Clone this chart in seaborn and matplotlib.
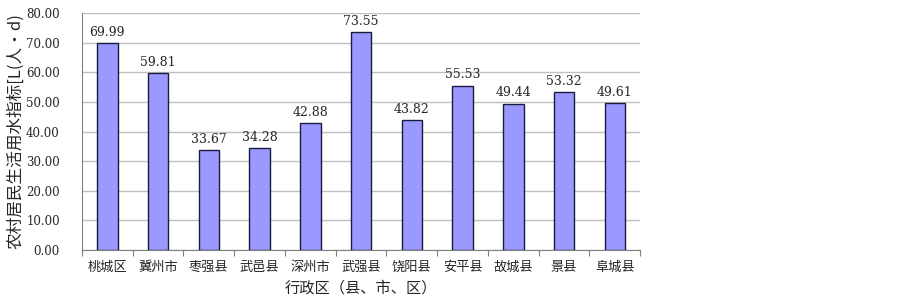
import numpy as np
import pandas as pd
import seaborn as sns
import matplotlib.pyplot as plt
from matplotlib.ticker import FixedLocator, NullFormatter

# 数据
districts = ["桃城区", "冀州市", "枣强县", "武邑县", "深州市", "武强县",
             "饶阳县", "安平县", "故城县", "景县", "阜城县"]
water_index = [69.99, 59.81, 33.67, 34.28, 42.88, 73.55,
               43.82, 55.53, 49.44, 53.32, 49.61]
y_ticks = [0, 10, 20, 30, 40, 50, 60, 70, 80]

sns.set_theme(style="white")
plt.rcParams['font.family'] = ['Noto Sans CJK SC', 'DejaVu Sans']
num_font = ['DejaVu Serif']

df = pd.DataFrame({"district": districts, "value": water_index})

fig, ax = plt.subplots(figsize=(9.03, 3.03), dpi=100)
fig.subplots_adjust(left=0.0908, right=0.709, top=0.957, bottom=0.175)

sns.barplot(data=df, x="district", y="value", color="#9999ff",
            edgecolor="#1a1a40", linewidth=1.0, width=0.4, saturation=1, ax=ax)

# 数据标签
for cont in ax.containers:
    labels = ax.bar_label(cont, fmt="%.2f", padding=3, fontsize=9)
    for t in labels:
        t.set_family(num_font)

ax.set_ylim(0, 80)
ax.set_xlim(-0.5, len(districts) - 0.5)
ax.set_yticks(y_ticks)
ax.set_yticklabels([f"{v:.2f}" for v in y_ticks], family=num_font, fontsize=8.5)
ax.yaxis.grid(True, color="#c0c0c0", linewidth=1)
ax.set_axisbelow(True)

# x 轴分隔刻度
ax.xaxis.set_minor_locator(FixedLocator(np.arange(-0.5, len(districts), 1.0)))
ax.xaxis.set_minor_formatter(NullFormatter())
ax.tick_params(axis="x", which="major", length=0, pad=8, labelsize=9.5)
ax.tick_params(axis="x", which="minor", length=4, width=0.8, color="#808080", bottom=True)
ax.tick_params(axis="y", length=0, pad=16)

for side in ["top", "right"]:
    ax.spines[side].set_visible(False)
for side in ["left", "bottom"]:
    ax.spines[side].set_color("#808080")
    ax.spines[side].set_linewidth(0.8)

ax.set_xlabel("行政区（县、市、区）", fontsize=11, labelpad=4)
ax.set_ylabel("农村居民生活用水指标[L(人•d)", fontsize=12, labelpad=1)

plt.savefig("out.png", dpi=100)
